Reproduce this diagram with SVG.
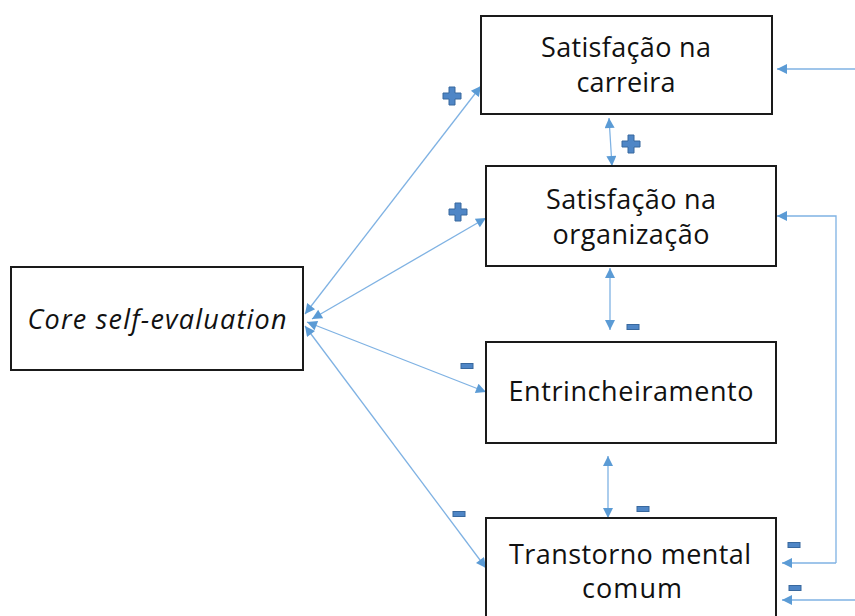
<svg xmlns="http://www.w3.org/2000/svg" xmlns:xlink="http://www.w3.org/1999/xlink" width="855" height="616" viewBox="0 0 855 616">
<style>
.box{fill:#fff;stroke:#1a1a1a;stroke-width:2}
.t{font-family:"Open Sans","Liberation Sans",sans-serif;font-size:27px;fill:#111;text-anchor:middle}
.it{font-style:italic}
.c{fill:none;stroke:#7fb2e3;stroke-width:1.3}
.sign{fill:#4f86c6;stroke:#38689e;stroke-width:1}
</style>
<defs>
<marker id="ah" viewBox="0 0 10 10" refX="10" refY="5" markerWidth="12" markerHeight="10" markerUnits="userSpaceOnUse" orient="auto-start-reverse">
<path d="M0,0 L10,5 L0,10 z" fill="#5b9bd5"/>
</marker>
<path id="plus" class="sign" d="M-3,-9 H3 V-3 H9 V3 H3 V9 H-3 V3 H-9 V-3 H-3 Z"/>
<rect id="minus" class="sign" x="-6" y="-2.5" width="12" height="5"/>
</defs>
<rect width="855" height="616" fill="#fff"/>
<g id="connectors">
<line class="c" x1="305" y1="314" x2="481" y2="86" marker-start="url(#ah)" marker-end="url(#ah)"/>
<line class="c" x1="312" y1="319" x2="486" y2="218" marker-start="url(#ah)" marker-end="url(#ah)"/>
<line class="c" x1="307" y1="322" x2="486" y2="392" marker-start="url(#ah)" marker-end="url(#ah)"/>
<line class="c" x1="305" y1="326" x2="486" y2="568" marker-start="url(#ah)" marker-end="url(#ah)"/>
<line class="c" x1="609" y1="118" x2="612" y2="166" marker-start="url(#ah)" marker-end="url(#ah)"/>
<line class="c" x1="610" y1="268" x2="610" y2="330" marker-start="url(#ah)" marker-end="url(#ah)"/>
<line class="c" x1="608" y1="456" x2="608" y2="518" marker-start="url(#ah)" marker-end="url(#ah)"/>
<line class="c" x1="855" y1="69" x2="777" y2="69" marker-end="url(#ah)"/>
<polyline class="c" points="836,563 836,216 777,216" marker-end="url(#ah)"/>
<polyline class="c" points="836,563 782,563" marker-end="url(#ah)"/>
<line class="c" x1="855" y1="600" x2="782" y2="600" marker-end="url(#ah)"/>
</g>
<g id="n-carreira">
<rect class="box" x="481" y="16" width="291" height="98"/>
<text class="t" x="626" y="57" textLength="170">Satisfação na</text>
<text class="t" x="626" y="92" textLength="99">carreira</text>
</g>
<g id="n-organizacao">
<rect class="box" x="486" y="166" width="290" height="100"/>
<text class="t" x="631" y="209" textLength="170">Satisfação na</text>
<text class="t" x="631" y="244" textLength="157">organização</text>
</g>
<g id="n-core">
<rect class="box" x="11" y="267" width="292" height="103"/>
<text class="t it" x="157" y="329" textLength="259">Core self-evaluation</text>
</g>
<g id="n-entrincheiramento">
<rect class="box" x="486" y="342" width="290" height="101"/>
<text class="t" x="631" y="401" textLength="245">Entrincheiramento</text>
</g>
<g id="n-transtorno">
<rect class="box" x="486" y="518" width="290" height="110"/>
<text class="t" x="630" y="564" textLength="242">Transtorno mental</text>
<text class="t" x="632" y="598" textLength="100">comum</text>
</g>
<g id="signs">
<use xlink:href="#plus" x="452" y="96"/>
<use xlink:href="#plus" x="631" y="144"/>
<use xlink:href="#plus" x="458" y="212"/>
<use xlink:href="#minus" x="467" y="366"/>
<use xlink:href="#minus" x="633" y="327"/>
<use xlink:href="#minus" x="643" y="509"/>
<use xlink:href="#minus" x="459" y="514"/>
<use xlink:href="#minus" x="794" y="545"/>
<use xlink:href="#minus" x="795" y="588"/>
</g>
</svg>
